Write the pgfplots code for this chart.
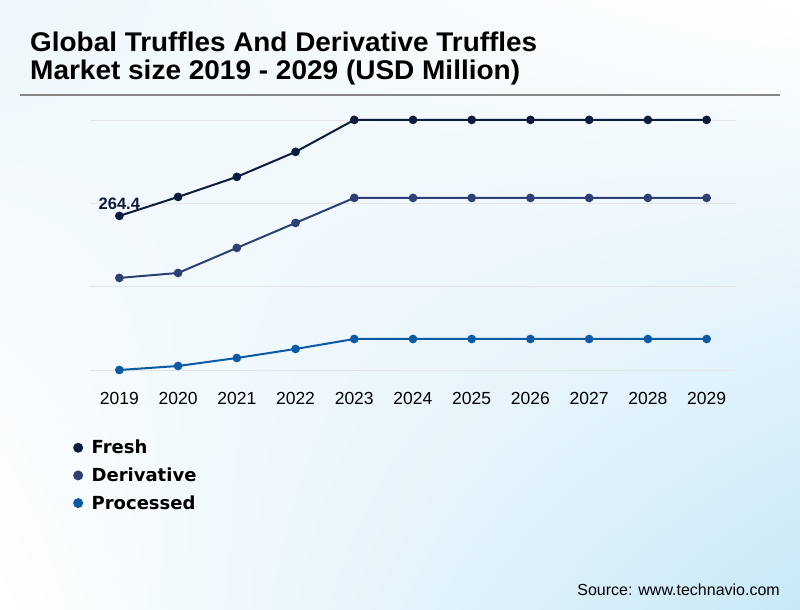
\documentclass[border=0pt]{standalone}
\usepackage{pgfplots}
\pgfplotsset{compat=1.18}
\usetikzlibrary{shadings}
\usepackage{fontspec}
\setmainfont{Liberation Sans}
\newfontfamily\dejavu{DejaVu Sans}
\usepackage{graphicx}

\definecolor{cfresh}{HTML}{0D1B3E}
\definecolor{cderiv}{HTML}{2E3F73}
\definecolor{cproc}{HTML}{0B5AA6}
\definecolor{bgblue}{HTML}{C8E8F7}
\definecolor{bgtl}{HTML}{EEF7FC}

\begin{document}
\begin{tikzpicture}
  % background
  \useasboundingbox (0,0) rectangle (800bp,610bp);
  \shade[upper left=bgtl, upper right=white, lower left=white, lower right=bgblue]
    (0,0) rectangle (800bp,610bp);

  % title
  \node[anchor=base west, inner sep=0pt] at (30bp,558bp)
    {\resizebox{507bp}{\height}{\fontsize{27bp}{30bp}\selectfont\bfseries Global Truffles And Derivative Truffles}};
  \node[anchor=base west, inner sep=0pt] at (30bp,530bp)
    {\resizebox{490bp}{\height}{\fontsize{27bp}{30bp}\selectfont\bfseries Market size 2019 - 2029 (USD Million)}};
  \draw[color=gray!95, line width=2bp] (20bp,515bp) -- (780bp,515bp);

  \begin{axis}[
    at={(90bp,240bp)}, anchor=south west,
    width=646bp, height=250bp, scale only axis,
    xmin=2018.5, xmax=2029.5,
    ymin=0, ymax=429,
    clip=false,
    axis line style={draw=none},
    major tick length=0pt,
    xtick={2019,...,2029},
    xticklabels={2019,2020,2021,2022,2023,2024,2025,2026,2027,2028,2029},
    xticklabel style={font=\fontsize{17.5bp}{20bp}\selectfont, yshift=-19bp},
    ytick={0,143,286,429},
    yticklabels={},
    ymajorgrids,
    grid style={color=black!10, line width=0.6bp},
    legend style={at={(-0.031,-0.272)}, anchor=north west, draw=none, fill=none,
      font=\dejavu\bfseries\fontsize{18bp}{20bp}\selectfont,
      row sep=8.5bp, inner sep=0pt},
    legend cell align=left,
    legend image code/.code={\fill[#1, draw=none] (8bp,0bp) circle (5bp);
      \path[draw=none, fill=none] (0bp,0bp) -- (19.5bp,0bp);},
    every axis plot/.append style={line width=2bp, mark=*, mark size=3.3bp},
  ]
    \addplot[color=cfresh, mark options={fill=cfresh}] coordinates {
      (2019,264.4) (2020,297.0) (2021,331.4) (2022,374.3) (2023,429.2)
      (2024,429.2) (2025,429.2) (2026,429.2) (2027,429.2) (2028,429.2) (2029,429.2)};
    \addlegendentry{Fresh}
    \addplot[color=cderiv, mark options={fill=cderiv}] coordinates {
      (2019,158.0) (2020,166.5) (2021,209.5) (2022,252.4) (2023,295.3)
      (2024,295.3) (2025,295.3) (2026,295.3) (2027,295.3) (2028,295.3) (2029,295.3)};
    \addlegendentry{Derivative}
    \addplot[color=cproc, mark options={fill=cproc}] coordinates {
      (2019,0.0) (2020,6.9) (2021,20.6) (2022,36.1) (2023,53.2)
      (2024,53.2) (2025,53.2) (2026,53.2) (2027,53.2) (2028,53.2) (2029,53.2)};
    \addlegendentry{Processed}
    \node[anchor=south, inner sep=0pt, yshift=6bp, text=cfresh,
      font=\bfseries\fontsize{16.5bp}{18bp}\selectfont] at (axis cs:2019,264.4) {264.4};
  \end{axis}

  % source
  \node[anchor=east, inner sep=0pt, font=\fontsize{16bp}{18bp}\selectfont] at (780bp,20bp)
    {Source: www.technavio.com};
\end{tikzpicture}
\end{document}
